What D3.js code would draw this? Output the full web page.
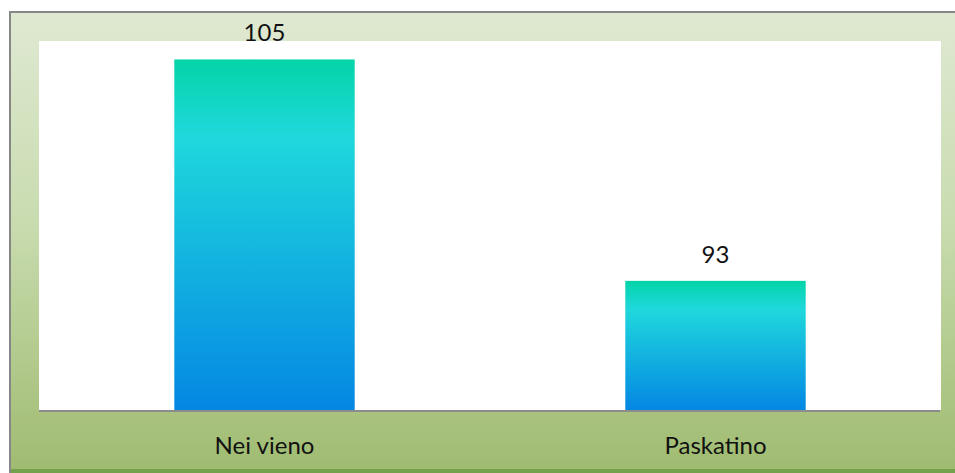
<!DOCTYPE html>
<html>
<head>
<meta charset="utf-8">
<script src="https://cdn.jsdelivr.net/npm/d3@7/dist/d3.min.js"></script>
<style>
  html, body { margin: 0; padding: 0; background: #ffffff; }
  svg { display: block; }
  text { font-family: Lato, "Open Sans", "Liberation Sans", sans-serif; fill: #111; }
</style>
</head>
<body>
<svg id="chart" width="955" height="473"></svg>
<script>
// Chart data
const categories = ["Nei vieno", "Paskatino"];
const values = [105, 93];
const yDomain = [86, 106];

const W = 955, H = 473;
const frame = { x: 9, y: 11 };
const plot = { left: 39, right: 941, top: 41, bottom: 410 };

const svg = d3.select("#chart");
const defs = svg.append("defs");

// Outer panel gradient (pale green to olive green)
const bg = defs.append("linearGradient")
  .attr("id", "bgGrad").attr("x1", 0).attr("y1", 0).attr("x2", 0).attr("y2", 1);
bg.append("stop").attr("offset", "0%").attr("stop-color", "#dfe9d2");
bg.append("stop").attr("offset", "45%").attr("stop-color", "#c9dcb0");
bg.append("stop").attr("offset", "100%").attr("stop-color", "#9fbb70");

// Bar gradient (teal-green top, cyan, blue bottom)
const bar = defs.append("linearGradient")
  .attr("id", "barGrad").attr("x1", 0).attr("y1", 0).attr("x2", 0).attr("y2", 1);
bar.append("stop").attr("offset", "0%").attr("stop-color", "#04d4a8");
bar.append("stop").attr("offset", "22%").attr("stop-color", "#1fd8dc");
bar.append("stop").attr("offset", "100%").attr("stop-color", "#0487e3");

// Panel with left/top border
svg.append("rect")
  .attr("x", frame.x).attr("y", frame.y)
  .attr("width", W - frame.x).attr("height", H - frame.y)
  .attr("fill", "url(#bgGrad)");
svg.append("rect")
  .attr("x", frame.x).attr("y", H - 4)
  .attr("width", W - frame.x).attr("height", 4)
  .attr("fill", "#74a24c");
svg.append("line")
  .attr("x1", frame.x + 1).attr("y1", frame.y).attr("x2", frame.x + 1).attr("y2", H)
  .attr("stroke", "#878787").attr("stroke-width", 2);
svg.append("line")
  .attr("x1", frame.x).attr("y1", frame.y + 1).attr("x2", W).attr("y2", frame.y + 1)
  .attr("stroke", "#878787").attr("stroke-width", 2);

// Plot area
svg.append("rect")
  .attr("x", plot.left).attr("y", plot.top)
  .attr("width", plot.right - plot.left).attr("height", plot.bottom - plot.top)
  .attr("fill", "#ffffff");

const x = d3.scaleBand()
  .domain(categories)
  .range([plot.left, plot.right])
  .paddingInner(0.6).paddingOuter(0.3);

const y = d3.scaleLinear().domain(yDomain).range([plot.bottom, plot.top]);

const data = categories.map((c, i) => ({ c, v: values[i] }));

// Bars (each bar gets its own full-height gradient)
svg.selectAll("rect.bar")
  .data(data).enter().append("rect")
  .attr("class", "bar")
  .attr("x", d => x(d.c))
  .attr("y", d => y(d.v))
  .attr("width", x.bandwidth())
  .attr("height", d => y(yDomain[0]) - y(d.v))
  .attr("fill", "url(#barGrad)");

// Baseline axis
svg.append("line")
  .attr("x1", plot.left).attr("x2", plot.right - 1)
  .attr("y1", plot.bottom + 1).attr("y2", plot.bottom + 1)
  .attr("stroke", "#8c8c8c").attr("stroke-width", 2);

// Value labels
svg.selectAll("text.val")
  .data(data).enter().append("text")
  .attr("class", "val")
  .attr("x", d => x(d.c) + x.bandwidth() / 2)
  .attr("y", d => y(d.v) - 18)
  .attr("text-anchor", "middle")
  .style("font-size", "24px")
  .text(d => d.v);

// Category labels
svg.selectAll("text.cat")
  .data(data).enter().append("text")
  .attr("class", "cat")
  .attr("x", d => x(d.c) + x.bandwidth() / 2)
  .attr("y", 454)
  .attr("text-anchor", "middle")
  .style("font-size", "24px")
  .text(d => d.c);
</script>
</body>
</html>
